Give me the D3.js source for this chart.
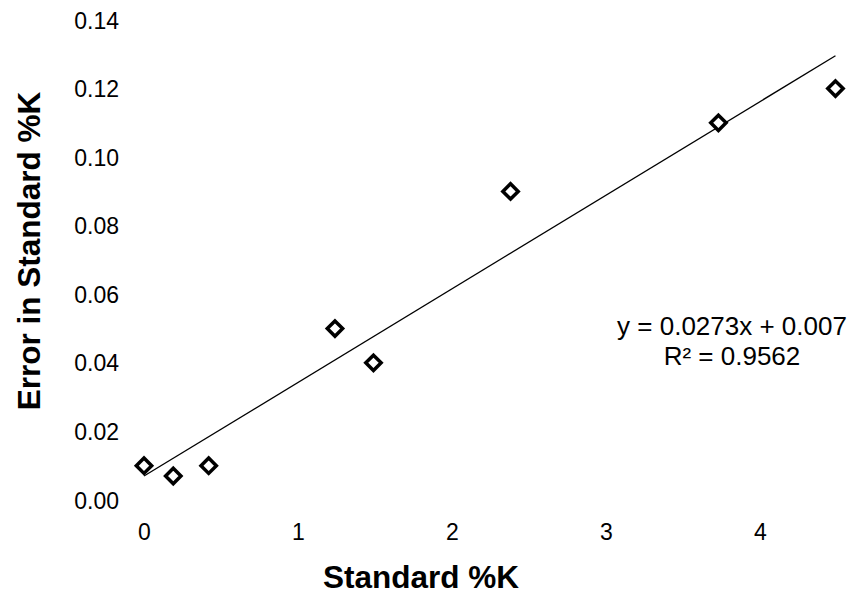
<!DOCTYPE html>
<html>
<head>
<meta charset="utf-8">
<script src="https://cdn.jsdelivr.net/npm/d3@7"></script>
<style>
  body { margin: 0; background: #fff; }
  text { font-family: "Liberation Sans", Arial, sans-serif; fill: #000; }
</style>
</head>
<body>
<svg id="chart" width="855" height="597"></svg>
<script>
// data
var standardK = [0, 0.19, 0.42, 1.24, 1.49, 2.38, 3.73, 4.49];
var errorK    = [0.01, 0.007, 0.01, 0.05, 0.04, 0.09, 0.11, 0.12];
var xTicks = [0, 1, 2, 3, 4];
var yTicks = [0, 0.02, 0.04, 0.06, 0.08, 0.10, 0.12, 0.14];
var fitSlope = 0.0273, fitIntercept = 0.007, fitR2 = 0.9562;

var svg = d3.select("#chart");

var x = d3.scaleLinear().domain([0, 4]).range([144, 760]);
var y = d3.scaleLinear().domain([0, 0.14]).range([500, 20]);

var points = standardK.map(function(d, i) { return {x: d, y: errorK[i]}; });

// y axis, labels only
var yAxis = d3.axisLeft(y).tickValues(yTicks).tickSize(0).tickPadding(0)
    .tickFormat(d3.format(".2f"));
var yg = svg.append("g").attr("transform", "translate(119,0)").call(yAxis);
yg.select(".domain").remove();
yg.selectAll("text").style("font-size", "23px").attr("dy", "0.35em")
    .style("font-family", "Liberation Sans, Arial, sans-serif");

// x axis, labels only
var xAxis = d3.axisBottom(x).tickValues(xTicks).tickSize(0).tickPadding(0)
    .tickFormat(d3.format("d"));
var xg = svg.append("g").attr("transform", "translate(0,532)").call(xAxis);
xg.selectAll("text").attr("y", 0);
xg.select(".domain").remove();
xg.selectAll("text").style("font-size", "23px").attr("dy", "0.35em")
    .style("font-family", "Liberation Sans, Arial, sans-serif");

// trendline over the data range
var xmax = d3.max(standardK);
svg.append("line")
    .attr("x1", x(0)).attr("y1", y(fitIntercept))
    .attr("x2", x(xmax)).attr("y2", y(fitSlope * xmax + fitIntercept))
    .style("stroke", "#000").style("stroke-width", 1.3);

// diamond markers
var diamond = d3.symbol().type(d3.symbolDiamond2).size(150);
svg.selectAll("path.pt").data(points).enter().append("path")
    .attr("class", "pt")
    .attr("d", diamond)
    .attr("transform", function(d) { return "translate(" + x(d.x) + "," + y(d.y) + ")"; })
    .style("fill", "#fff").style("stroke", "#000").style("stroke-width", 3.5);

// equation
var eq = svg.append("text").attr("text-anchor", "middle").style("font-size", "26px");
eq.append("tspan").attr("x", 732).attr("y", 335).text("y = " + fitSlope + "x + " + fitIntercept);
eq.append("tspan").attr("x", 732).attr("y", 365).text("R\u00b2 = " + fitR2);

// axis titles
svg.append("text").attr("x", 421).attr("y", 588).attr("text-anchor", "middle")
    .style("font-size", "31.5px").style("font-weight", "bold").text("Standard %K");
svg.append("text").attr("transform", "translate(40,251) rotate(-90)")
    .attr("text-anchor", "middle")
    .style("font-size", "31.5px").style("font-weight", "bold").text("Error in Standard %K");
</script>
</body>
</html>
